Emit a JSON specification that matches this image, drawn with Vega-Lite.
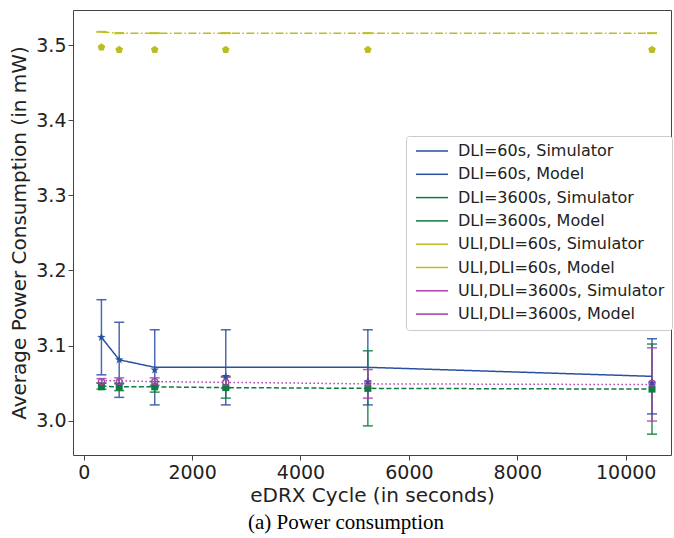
{
  "$schema": "https://vega.github.io/schema/vega-lite/v6.json",
  "width": 598,
  "height": 445,
  "autosize": {"type": "none"},
  "padding": {"left": 73, "top": 10, "right": 3, "bottom": 83},
  "background": "white",
  "title": {"text": "(a) Power consumption", "orient": "bottom", "font": "Liberation Serif", "fontSize": 21, "fontWeight": "normal", "color": "#000000", "offset": 7, "dx": -26},
  "config": {
    "view": {"stroke": "#444444", "strokeWidth": 1},
    "axis": {"domain": false, "grid": false, "labelFont": "DejaVu Sans", "labelFontSize": 19, "labelColor": "#222222", "titleFont": "DejaVu Sans", "titleFontSize": 20, "titleFontWeight": "normal", "titleColor": "#222222", "tickColor": "#444444", "tickSize": 5}
  },
  "datasets": {
    "sim": [
      {"series": "DLI=60s, Simulator", "x": 327.68, "y": 3.111, "lo": 3.061, "hi": 3.161},
      {"series": "DLI=60s, Simulator", "x": 655.36, "y": 3.081, "lo": 3.031, "hi": 3.131},
      {"series": "DLI=60s, Simulator", "x": 1310.72, "y": 3.071, "lo": 3.021, "hi": 3.121},
      {"series": "DLI=60s, Simulator", "x": 2621.44, "y": 3.071, "lo": 3.021, "hi": 3.121},
      {"series": "DLI=60s, Simulator", "x": 5242.88, "y": 3.071, "lo": 3.021, "hi": 3.121},
      {"series": "DLI=60s, Simulator", "x": 10485.76, "y": 3.059, "lo": 3.009, "hi": 3.109},
      {"series": "DLI=3600s, Simulator", "x": 327.68, "y": 3.046, "lo": 3.042, "hi": 3.05},
      {"series": "DLI=3600s, Simulator", "x": 655.36, "y": 3.045, "lo": 3.04, "hi": 3.05},
      {"series": "DLI=3600s, Simulator", "x": 1310.72, "y": 3.045, "lo": 3.038, "hi": 3.052},
      {"series": "DLI=3600s, Simulator", "x": 2621.44, "y": 3.044, "lo": 3.03, "hi": 3.058},
      {"series": "DLI=3600s, Simulator", "x": 5242.88, "y": 3.043, "lo": 2.993, "hi": 3.093},
      {"series": "DLI=3600s, Simulator", "x": 10485.76, "y": 3.042, "lo": 2.982, "hi": 3.102},
      {"series": "ULI,DLI=60s, Simulator", "x": 327.68, "y": 3.5175, "lo": 3.5171, "hi": 3.5179},
      {"series": "ULI,DLI=60s, Simulator", "x": 655.36, "y": 3.5158, "lo": 3.5154, "hi": 3.5162},
      {"series": "ULI,DLI=60s, Simulator", "x": 1310.72, "y": 3.5158, "lo": 3.5154, "hi": 3.5162},
      {"series": "ULI,DLI=60s, Simulator", "x": 2621.44, "y": 3.5158, "lo": 3.5154, "hi": 3.5162},
      {"series": "ULI,DLI=60s, Simulator", "x": 5242.88, "y": 3.5158, "lo": 3.5154, "hi": 3.5162},
      {"series": "ULI,DLI=60s, Simulator", "x": 10485.76, "y": 3.5158, "lo": 3.5154, "hi": 3.5162},
      {"series": "ULI,DLI=3600s, Simulator", "x": 327.68, "y": 3.053, "lo": 3.05, "hi": 3.056},
      {"series": "ULI,DLI=3600s, Simulator", "x": 655.36, "y": 3.053, "lo": 3.049, "hi": 3.057},
      {"series": "ULI,DLI=3600s, Simulator", "x": 1310.72, "y": 3.052, "lo": 3.047, "hi": 3.057},
      {"series": "ULI,DLI=3600s, Simulator", "x": 2621.44, "y": 3.051, "lo": 3.043, "hi": 3.059},
      {"series": "ULI,DLI=3600s, Simulator", "x": 5242.88, "y": 3.049, "lo": 3.03, "hi": 3.068},
      {"series": "ULI,DLI=3600s, Simulator", "x": 10485.76, "y": 3.048, "lo": 2.9995, "hi": 3.097}
    ],
    "model": [
      {"series": "DLI=60s, Model", "x": 327.68, "y": 3.111},
      {"series": "DLI=60s, Model", "x": 655.36, "y": 3.081},
      {"series": "DLI=60s, Model", "x": 1310.72, "y": 3.0675},
      {"series": "DLI=60s, Model", "x": 2621.44, "y": 3.059},
      {"series": "DLI=60s, Model", "x": 5242.88, "y": 3.052},
      {"series": "DLI=60s, Model", "x": 10485.76, "y": 3.05},
      {"series": "DLI=3600s, Model", "x": 327.68, "y": 3.045},
      {"series": "DLI=3600s, Model", "x": 655.36, "y": 3.045},
      {"series": "DLI=3600s, Model", "x": 1310.72, "y": 3.045},
      {"series": "DLI=3600s, Model", "x": 2621.44, "y": 3.044},
      {"series": "DLI=3600s, Model", "x": 5242.88, "y": 3.043},
      {"series": "DLI=3600s, Model", "x": 10485.76, "y": 3.042},
      {"series": "ULI,DLI=60s, Model", "x": 327.68, "y": 3.497},
      {"series": "ULI,DLI=60s, Model", "x": 655.36, "y": 3.4936},
      {"series": "ULI,DLI=60s, Model", "x": 1310.72, "y": 3.4936},
      {"series": "ULI,DLI=60s, Model", "x": 2621.44, "y": 3.4936},
      {"series": "ULI,DLI=60s, Model", "x": 5242.88, "y": 3.4936},
      {"series": "ULI,DLI=60s, Model", "x": 10485.76, "y": 3.4936}
    ],
    "hollow": [
      {"series": "ULI,DLI=3600s, Model", "x": 327.68, "y": 3.052},
      {"series": "ULI,DLI=3600s, Model", "x": 655.36, "y": 3.052},
      {"series": "ULI,DLI=3600s, Model", "x": 1310.72, "y": 3.052},
      {"series": "ULI,DLI=3600s, Model", "x": 2621.44, "y": 3.051},
      {"series": "ULI,DLI=3600s, Model", "x": 5242.88, "y": 3.05},
      {"series": "ULI,DLI=3600s, Model", "x": 10485.76, "y": 3.0498}
    ]
  },
  "encoding": {
    "x": {"field": "x", "type": "quantitative", "scale": {"domain": [-197, 10836], "nice": false, "zero": false}, "axis": {"values": [0, 2000, 4000, 6000, 8000, 10000], "format": "d", "title": "eDRX Cycle (in seconds)", "labelPadding": 3, "titlePadding": 3}},
    "color": {"field": "series", "type": "nominal", "scale": {"domain": ["DLI=60s, Simulator", "DLI=60s, Model", "DLI=3600s, Simulator", "DLI=3600s, Model", "ULI,DLI=60s, Simulator", "ULI,DLI=60s, Model", "ULI,DLI=3600s, Simulator", "ULI,DLI=3600s, Model"], "range": ["#2a50a3", "#2a50a3", "#0b7d3e", "#0b7d3e", "#bcbd22", "#bcbd22", "#b040b0", "#a040a8"]}, "legend": null}
  },
  "layer": [
    {
      "data": {"name": "sim"},
      "mark": {"type": "rule", "strokeWidth": 1.5, "opacity": 0.85},
      "encoding": {
        "y": {"field": "lo", "type": "quantitative", "scale": {"domain": [2.9543, 3.5466], "nice": false, "zero": false}, "axis": {"values": [3.0, 3.1, 3.2, 3.3, 3.4, 3.5], "format": ".1f", "title": "Average Power Consumption (in mW)", "labelPadding": 2, "titlePadding": 6}},
        "y2": {"field": "hi"},
        "color": {"field": "series", "type": "nominal",
          "legend": {
            "orient": "none", "legendX": 333, "legendY": 126, "title": null,
            "labelFont": "DejaVu Sans", "labelFontSize": 16, "labelColor": "#222222", "labelLimit": 400,
            "fillColor": "white", "strokeColor": "#cccccc", "cornerRadius": 3, "padding": 7,
            "symbolType": "M-3.2,0H3.2", "symbolStrokeWidth": 1.5, "symbolOpacity": 1,
            "symbolSize": 100, "symbolOffset": 11, "labelOffset": 18, "rowPadding": 7.3
          }
        }
      }
    },
    {
      "data": {"name": "sim"},
      "mark": {"type": "tick", "orient": "horizontal", "size": 10, "thickness": 1.5, "opacity": 0.85},
      "encoding": {
        "y": {"field": "lo", "type": "quantitative"}
      }
    },
    {
      "data": {"name": "sim"},
      "mark": {"type": "tick", "orient": "horizontal", "size": 10, "thickness": 1.5, "opacity": 0.85},
      "encoding": {
        "y": {"field": "hi", "type": "quantitative"}
      }
    },
    {
      "data": {"name": "sim"},
      "mark": {"type": "line", "strokeWidth": 1.5},
      "encoding": {
        "y": {"field": "y", "type": "quantitative"},
        "strokeDash": {"field": "series", "type": "nominal", "scale": {"domain": ["DLI=60s, Simulator", "DLI=3600s, Simulator", "ULI,DLI=60s, Simulator", "ULI,DLI=3600s, Simulator"], "range": [[1, 0], [5, 2.5], [8, 2.5, 1.5, 2.5], [1.5, 2.5]]}, "legend": null}
      }
    },
    {
      "data": {"name": "model"},
      "mark": {"type": "point", "filled": true, "size": 100, "opacity": 1},
      "encoding": {
        "y": {"field": "y", "type": "quantitative"},
        "shape": {"field": "series", "type": "nominal", "scale": {"domain": ["DLI=60s, Model", "DLI=3600s, Model", "ULI,DLI=60s, Model"], "range": ["M0,-0.9L0.212,-0.291L0.856,-0.278L0.342,0.111L0.529,0.728L0,0.36L-0.529,0.728L-0.342,0.111L-0.856,-0.278L-0.212,-0.291Z", "M-0.7,-0.7H0.7V0.7H-0.7Z", "M0,-0.8L0.761,-0.247L0.47,0.647L-0.47,0.647L-0.761,-0.247Z"]}, "legend": null}
      }
    },
    {
      "data": {"name": "hollow"},
      "mark": {"type": "point", "filled": false, "size": 100, "opacity": 1, "strokeWidth": 1.3, "shape": "M0.6,0A0.6,0.6 0 1,1 -0.6,0A0.6,0.6 0 1,1 0.6,0Z"},
      "encoding": {
        "y": {"field": "y", "type": "quantitative"}
      }
    }
  ]
}
